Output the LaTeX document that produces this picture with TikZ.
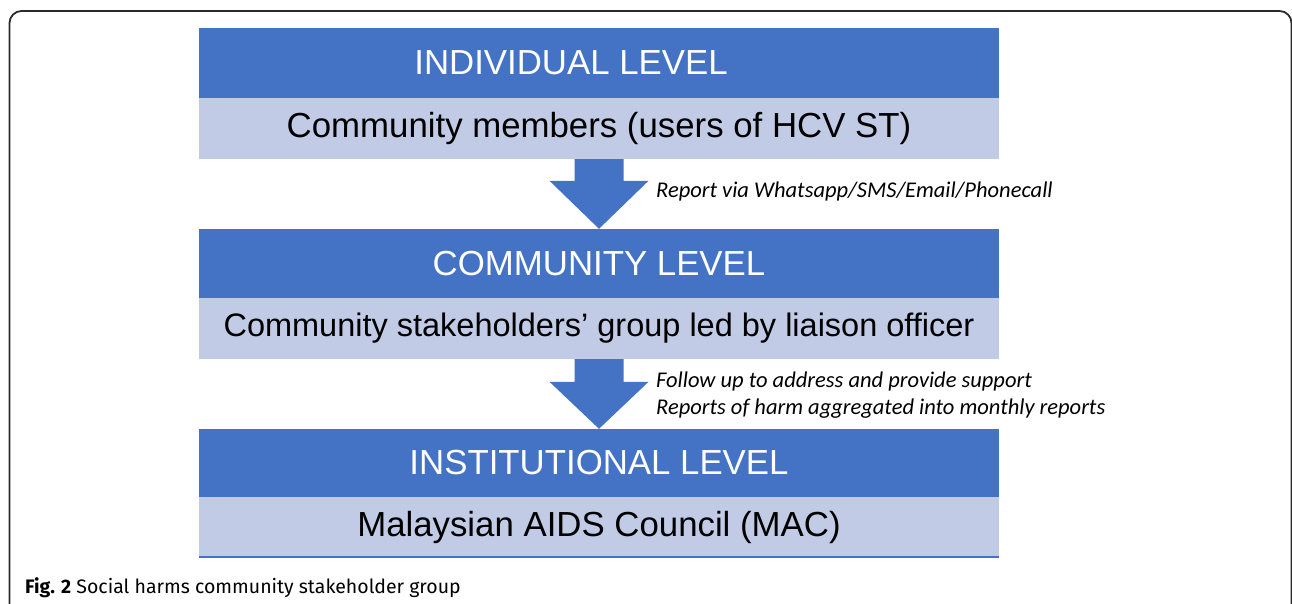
\documentclass[tikz,border=0pt]{standalone}
\usepackage{fontspec}
\setmainfont{Liberation Sans}
\newfontfamily\calfont{Carlito}
\newfontfamily\capfont{Fira Sans}
\usetikzlibrary{calc}
\definecolor{darkblue}{HTML}{4472C4}
\definecolor{lightblue}{HTML}{C1CBE5}
\definecolor{framegray}{HTML}{2A2A2A}
\tikzset{
  titlebox/.style={fill=darkblue, text=white, minimum width=800pt, inner sep=0pt, anchor=center,
    font=\fontsize{34.8}{40}\selectfont},
  subbox/.style={fill=lightblue, text=black, minimum width=800pt, inner sep=0pt, anchor=center,
    font=\fontsize{34.8}{40}\selectfont},
  boxtext/.style={inner sep=0pt, anchor=center},
  blockarrow/.style={fill=darkblue, draw=none},
  note/.style={anchor=west, inner sep=0pt, align=left, font=\calfont\itshape\fontsize{22.5}{27}\selectfont},
}
\begin{document}
\begin{tikzpicture}[x=1pt,y=-1pt]
\useasboundingbox (0,0) rectangle (1292,603);
% frame
\draw[framegray, line width=1.8pt, rounded corners=12pt] (9.5,620) -- (9.5,11) -- (1291.5,11) -- (1291.5,620);

% boxes
\node[titlebox, minimum height=70pt] (t1) at (599,63) {};
\node[boxtext, text=white, font=\fontsize{34.8}{40}\selectfont] (t1text) at (571,63) {INDIVIDUAL LEVEL};
\node[subbox, minimum height=61pt] (s1) at (599,128.5) {Community members (users of HCV ST)};
\node[titlebox, minimum height=69pt] (t2) at (599,263.5) {COMMUNITY LEVEL};
\node[subbox, minimum height=61pt, font=\fontsize{32.5}{40}\selectfont] (s2) at (599,328.5) {Community stakeholders’ group led by liaison officer};
\node[titlebox, minimum height=68pt] (t3) at (599,463) {INSTITUTIONAL LEVEL};
\node[subbox, minimum height=60pt] (s3) at (599,527) {Malaysian AIDS Council (MAC)};
\draw[darkblue, line width=1.6pt] (s3.south west) -- (s3.south east);

% block arrows
\fill[blockarrow] ($(s1.south)+(-24.5,0)$) -- ($(s1.south)+(24.5,0)$) -- ($(t2.north)+(24.5,-48)$)
  -- ($(t2.north)+(49.5,-48)$) -- (t2.north) -- ($(t2.north)+(-49.5,-48)$) -- ($(t2.north)+(-24.5,-48)$) -- cycle;
\fill[blockarrow] ($(s2.south)+(-24.5,0)$) -- ($(s2.south)+(24.5,0)$) -- ($(t3.north)+(24.5,-47)$)
  -- ($(t3.north)+(49.5,-47)$) -- (t3.north) -- ($(t3.north)+(-49.5,-47)$) -- ($(t3.north)+(-24.5,-47)$) -- cycle;

% notes
\node[note] (n1) at (656,191) {Report via Whatsapp/SMS/Email/Phonecall};
\node[note] (n2) at (656,395.5) {Follow up to address and provide support\\Reports of harm aggregated into monthly reports};

% caption
\node[anchor=west, inner sep=0pt, font=\capfont\fontsize{19.5}{24}\selectfont] (cap) at (25,588)
  {\textbf{Fig. 2} Social harms community stakeholder group};
\end{tikzpicture}
\end{document}
